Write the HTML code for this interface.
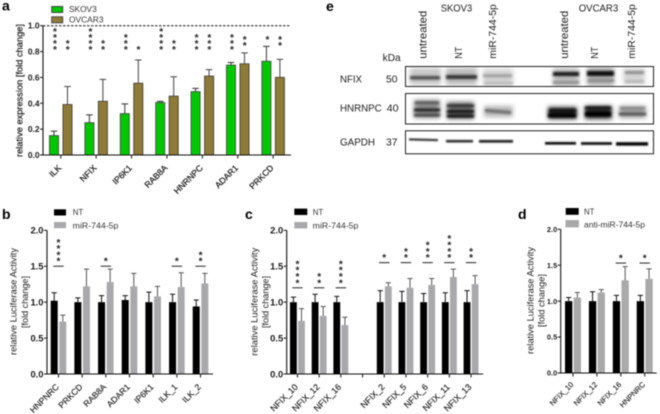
<!DOCTYPE html>
<html lang="en">
<head>
<meta charset="utf-8">
<title>miR-744-5p figure</title>
<style>
html,body{margin:0;padding:0;background:#fff;width:660px;height:414px;overflow:hidden}
svg{display:block;filter:blur(.4px)}
text{font-family:"Liberation Sans",sans-serif;fill:#1c1c1c}
</style>
</head>
<body>
<svg id="fig" xmlns="http://www.w3.org/2000/svg" width="660" height="414" viewBox="0 0 660 414">
<defs>
<filter id="b1" x="-20%" y="-150%" width="140%" height="400%"><feGaussianBlur stdDeviation="1.1"/></filter>
<filter id="b0" x="-20%" y="-200%" width="140%" height="500%"><feGaussianBlur stdDeviation="0.7"/></filter>
<filter id="b2" x="-20%" y="-100%" width="140%" height="300%"><feGaussianBlur stdDeviation="2.4"/></filter>
<pattern id="hatch" width="2" height="2" patternUnits="userSpaceOnUse"><rect width="2" height="2" fill="#c8c8c8"/><rect width="1" height="1" fill="#8a8a8a"/><rect x="1" y="1" width="1" height="1" fill="#8a8a8a"/></pattern>
<clipPath id="clipNfix"><rect x="405" y="66" width="249" height="21"/></clipPath>
<clipPath id="clipHnr"><rect x="405" y="93" width="249" height="31"/></clipPath>
<clipPath id="clipGap"><rect x="405" y="131" width="249" height="23"/></clipPath>
</defs>

<text x="2" y="10.5" font-size="14" font-weight="bold" style="fill:#000">a</text>
<text x="2" y="219" font-size="14" font-weight="bold" style="fill:#000">b</text>
<text x="245" y="219" font-size="14" font-weight="bold" style="fill:#000">c</text>
<text x="518" y="219" font-size="14" font-weight="bold" style="fill:#000">d</text>
<text x="326" y="11" font-size="14" font-weight="bold" style="fill:#000">e</text>

<g id="panel-a"></g>
<g id="panel-b"></g>
<g id="panel-c"></g>
<g id="panel-d"></g>

<g>
  <text x="440.7" y="11.7" font-size="10" textLength="31.5" lengthAdjust="spacingAndGlyphs">SKOV3</text>
  <text x="578.7" y="11.7" font-size="10" textLength="39.5" lengthAdjust="spacingAndGlyphs">OVCAR3</text>
  <text transform="translate(426.7,58.7) rotate(-90)" font-size="11" textLength="48" lengthAdjust="spacingAndGlyphs">untreated</text>
  <text transform="translate(462,58.7) rotate(-90)" font-size="10.5" textLength="12" lengthAdjust="spacingAndGlyphs">NT</text>
  <text transform="translate(496,58.7) rotate(-90)" font-size="10.5" textLength="54.5" lengthAdjust="spacingAndGlyphs">miR-744-5p</text>
  <text transform="translate(568,58.7) rotate(-90)" font-size="11" textLength="48" lengthAdjust="spacingAndGlyphs">untreated</text>
  <text transform="translate(598,58.7) rotate(-90)" font-size="10.5" textLength="12" lengthAdjust="spacingAndGlyphs">NT</text>
  <text transform="translate(635,58.7) rotate(-90)" font-size="10.5" textLength="54.5" lengthAdjust="spacingAndGlyphs">miR-744-5p</text>
  <text x="382.7" y="61" font-size="10" textLength="18" lengthAdjust="spacingAndGlyphs">kDa</text>
  <text x="340" y="82.7" font-size="10" textLength="22" lengthAdjust="spacingAndGlyphs">NFIX</text>
  <text x="386" y="82.7" font-size="10" textLength="11.5" lengthAdjust="spacingAndGlyphs">50</text>
  <text x="340" y="111.3" font-size="10" textLength="41.7" lengthAdjust="spacingAndGlyphs">HNRNPC</text>
  <text x="386.7" y="111.3" font-size="10" textLength="12" lengthAdjust="spacingAndGlyphs">40</text>
  <text x="340" y="145.3" font-size="10" textLength="35" lengthAdjust="spacingAndGlyphs">GAPDH</text>
  <text x="386" y="145.3" font-size="10" textLength="11.5" lengthAdjust="spacingAndGlyphs">37</text>

  <g clip-path="url(#clipNfix)">
    <g filter="url(#b2)">
      <rect x="410" y="68" width="31" height="17" fill="#c6c6c6"/>
      <rect x="446" y="68" width="31" height="17" fill="#bababa"/>
      <rect x="483" y="69" width="30" height="16" fill="#d2d2d2"/>
      <rect x="553" y="68" width="26" height="18" fill="#bcbcbc"/>
      <rect x="587" y="67" width="27" height="19" fill="#b0b0b0"/>
      <rect x="623" y="68" width="22" height="16" fill="#d6d6d6"/>
    </g>
    <g filter="url(#b1)">
      <rect x="410" y="76" width="30" height="3.5" fill="#4a4a4a"/>
      <rect x="446" y="75" width="31" height="4" fill="#333"/>
      <rect x="483" y="74.5" width="29" height="2.6" fill="#9a9a9a"/>
      <rect x="484" y="82" width="29" height="2.6" fill="#b5b5b5"/>
      <rect x="553" y="72" width="26" height="4" fill="#161616"/>
      <rect x="553" y="81" width="26" height="3" fill="#8f8f8f"/>
      <rect x="587" y="71" width="27" height="5" fill="#0a0a0a"/>
      <rect x="588" y="79" width="26" height="3" fill="#8a8a8a"/>
      <rect x="625" y="71" width="19" height="3" fill="#8a8a8a"/>
      <rect x="625" y="80" width="19" height="3" fill="#b5b5b5"/>
    </g>
  </g>
  <g clip-path="url(#clipHnr)">
    <g filter="url(#b2)">
      <rect x="414" y="100" width="26" height="18" fill="#8c8c8c"/>
      <rect x="447" y="102" width="27" height="17" fill="#6e6e6e"/>
      <rect x="484" y="106" width="29" height="11" fill="#b5b5b5"/>
      <rect x="548" y="107" width="29" height="12" fill="#333"/>
      <rect x="585" y="106" width="27" height="13" fill="#333"/>
      <rect x="619" y="106" width="27" height="12" fill="#a0a0a0"/>
    </g>
    <g filter="url(#b1)">
      <rect x="415" y="101.5" width="24" height="2.6" fill="#555"/>
      <rect x="414" y="108.5" width="26" height="3" fill="#222"/>
      <rect x="414" y="113.8" width="26" height="2.6" fill="#3c3c3c"/>
      <rect x="447" y="104.5" width="27" height="2.6" fill="#2a2a2a"/>
      <rect x="447" y="110" width="27" height="3" fill="#111"/>
      <rect x="447" y="114.5" width="27" height="3" fill="#111"/>
      <rect x="485" y="110" width="26" height="3" fill="#6a6a6a" transform="rotate(5 498 111)"/>
      <rect x="549" y="109" width="27" height="3.5" fill="#0a0a0a"/>
      <rect x="548" y="113.5" width="28" height="4" fill="#000"/>
      <rect x="585" y="106.5" width="26" height="3" fill="#111"/>
      <rect x="585" y="111.5" width="26" height="5" fill="#000"/>
      <rect x="620" y="107" width="25" height="2.4" fill="#7f7f7f"/>
      <rect x="619" y="112.5" width="27" height="3" fill="#555"/>
    </g>
  </g>
  <g clip-path="url(#clipGap)" filter="url(#b0)">
    <rect x="409" y="138.8" width="29" height="2" fill="#222" transform="rotate(1.5 424 140)"/>
    <rect x="446" y="140" width="27" height="2.4" fill="#1a1a1a"/>
    <rect x="479" y="140" width="34" height="2.6" fill="#161616"/>
    <rect x="545" y="142" width="31" height="2.6" fill="#050505"/>
    <rect x="581" y="142.2" width="31" height="2.6" fill="#050505"/>
    <rect x="616" y="142.2" width="32" height="3.4" fill="#000"/>
  </g>
  <rect x="405.5" y="66.5" width="248" height="20" fill="none" stroke="#222" stroke-width="1"/>
  <rect x="405.5" y="93.5" width="248" height="30.5" fill="none" stroke="#222" stroke-width="1"/>
  <rect x="405.5" y="130.8" width="248" height="23" fill="none" stroke="#222" stroke-width="1"/>
</g>
</svg>
<script>
/* Panel a */
const aCategories = ['ILK','NFIX','IP6K1','RAB8A','HNRNPC','ADAR1','PRKCD'];
const aSkov = [0.15,0.25,0.32,0.405,0.49,0.695,0.725];
const aSkovTop = [0.185,0.31,0.395,0.415,0.515,0.715,0.84];
const aOvcar = [0.39,0.415,0.555,0.455,0.61,0.705,0.60];
const aOvcarTop = [0.53,0.585,0.735,0.605,0.66,0.79,0.74];
const aSkovStars = [4,4,3,4,3,3,1];
const aOvcarStars = [2,2,1,2,3,2,2];
const aSkovStarLevel = [0.833,0.833,0.833,0.833,0.833,0.833,0.91];
const aOvcarStarLevel = [0.833,0.833,0.833,0.833,0.833,0.866,0.866];
const aTicks = ['0.0','0.2','0.4','0.6','0.8','1.0'];

/* Panel b */
const bCategories = ['HNPNRC','PRKCD','RAB8A','ADAR1','IP6K1','ILK_1','ILK_2'];
const bNT = [1.02,1.0,1.0,1.03,1.0,1.0,0.94];
const bNTTop = [1.13,1.06,1.09,1.09,1.14,1.11,1.03];
const bMir = [0.73,1.22,1.28,1.22,1.08,1.21,1.26];
const bMirTop = [0.82,1.46,1.46,1.40,1.22,1.41,1.40];
const bStars = [4,0,1,0,0,1,2];
const bSigLevel = [1.5,0,1.5,0,0,1.5,1.5];

/* Panel c */
const cCategories = ['NFIX_10','NFIX_12','NFIX_16','','NFIX_2','NFIX_5','NFIX_6','NFIX_11','NFIX_13'];
const cNT = [1,1,1,null,1,1,1,1,1];
const cNTTop = [1.07,1.11,1.08,null,1.16,1.15,1.12,1.13,1.16];
const cMir = [0.74,0.81,0.68,null,1.22,1.2,1.24,1.35,1.25];
const cMirTop = [0.91,0.94,0.79,null,1.27,1.33,1.33,1.46,1.37];
const cStars = [4,2,4,0,1,2,3,4,2];
const cSigLevel = [1.2,1.2,1.2,0,1.55,1.55,1.55,1.55,1.55];

/* Panel d */
const dCategories = ['NFIX_10','NFIX_12','NFIX_16','HNPNRC'];
const dNT = [1,1,1,1];
const dNTTop = [1.05,1.13,1.08,1.08];
const dAnti = [1.05,1.12,1.29,1.31];
const dAntiTop = [1.12,1.16,1.48,1.45];
const dStars = [0,0,1,1];
const dSigLevel = [0,0,1.53,1.53];

const lucTicks = ['0.0','0.5','1.0','1.5','2.0'];
const SVGNS = 'http://www.w3.org/2000/svg';
const STAR_SIZE = 10;

function make(parent, tag, attrs, txt) {
  const el = document.createElementNS(SVGNS, tag);
  for (const k in attrs) el.setAttribute(k, attrs[k]);
  if (txt !== undefined) el.textContent = txt;
  parent.appendChild(el);
  return el;
}
function star(parent, x, cy, color) {
  const el = make(parent, 'text', {x: x, y: cy + STAR_SIZE * 0.58, 'font-size': STAR_SIZE, 'font-weight': 'bold', 'text-anchor': 'middle', style: 'fill:' + color}, '*');
  
  
}
function yScale(p, v) { return p.y0 - (v / p.yMax) * (p.y0 - p.yTop); }
function xScale(p, i) { return p.first + i * p.spacing; }

function drawBar(p, g, x, val, top, style, errColor, seriesName) {
  const y = yScale(p, val);
  const bar = make(g, 'rect', {x: x, y: y, width: p.barW, height: p.y0 - y, fill: style.fill, stroke: style.stroke, 'stroke-width': style.sw});
  
  
  const cx = x + p.barW / 2, yt = yScale(p, top);
  const err = make(g, 'path', {d: 'M' + cx + ' ' + y + 'V' + yt + 'M' + (cx - p.cap) + ' ' + yt + 'H' + (cx + p.cap), fill: 'none', stroke: errColor, 'stroke-width': p.errW});
  
  
}

function drawPanel(p) {
  const g = document.getElementById(p.id);
  p.cats.forEach(function (cat, i) {
    if (p.s1[i] === null) return;
    const x1 = xScale(p, i), x2 = x1 + p.barW + p.gap;
    drawBar(p, g, x1, p.s1[i], p.t1[i], p.style1, p.err1, p.name1);
    drawBar(p, g, x2, p.s2[i], p.t2[i], p.style2, p.err2, p.name2);
  });

  const yAxis = make(g, 'line', {x1: p.x0, x2: p.x0, y1: p.yTop, y2: p.y0 + .5, stroke: '#111', 'stroke-width': 1.1});
  
  
  const xAxis = make(g, 'line', {x1: p.x0, x2: p.xEnd, y1: p.y0, y2: p.y0, stroke: '#111', 'stroke-width': 1.1});
  
  

  p.ticks.forEach(function (t) {
    const y = yScale(p, parseFloat(t));
    const tk = make(g, 'line', {x1: p.x0 - 3, x2: p.x0, y1: y, y2: y, stroke: '#111', 'stroke-width': 1});
    
    
    const lb = make(g, 'text', {x: p.x0 - 3.5, y: y + p.tickFont * .36, 'font-size': p.tickFont, 'font-weight': 'bold', 'text-anchor': 'end'}, t);
    
    
  });

  p.cats.forEach(function (cat, i) {
    const tx = xScale(p, i) + p.barW + p.gap / 2;
    const tk = make(g, 'line', {x1: tx, x2: tx, y1: p.y0, y2: p.y0 + 3.5, stroke: '#111', 'stroke-width': 1});
    
    
    if (cat) {
      const ax = tx + 1, ay = p.y0 + p.labelDrop;
      const lb = make(g, 'text', {transform: 'translate(' + ax + ',' + ay + ') rotate(-45)', 'font-size': p.xFont, 'text-anchor': 'end', style: 'stroke:#1c1c1c;stroke-width:' + p.xStroke}, cat);
      
      
    }
  });

  p.titles.forEach(function (tt) {
    const t = make(g, 'text', {transform: 'translate(' + tt.x + ',' + tt.y + ') rotate(-90)', 'font-size': tt.size, textLength: tt.len, lengthAdjust: 'spacingAndGlyphs', style: 'stroke:#1c1c1c;stroke-width:' + (tt.stroke || 0)}, tt.text);
    
    
  });

  p.legend.forEach(function (l) {
    const sw = make(g, 'rect', {x: l.x, y: l.y, width: l.w, height: l.h, fill: l.fill, stroke: l.stroke, 'stroke-width': l.sw});
    
    
    const lt = make(g, 'text', {x: l.tx, y: l.ty, 'font-size': l.size, textLength: l.len, lengthAdjust: 'spacingAndGlyphs', style: 'fill:#333'}, l.text);
    
    
  });
}

function drawSig(p, stars, levels) {
  const g = document.getElementById(p.id);
  stars.forEach(function (n, i) {
    if (!n) return;
    const cx = xScale(p, i) + p.barW + p.gap / 2;
    const y = yScale(p, levels[i]);
    const ln = make(g, 'line', {x1: cx - 5.2, x2: cx + 5.2, y1: y, y2: y, stroke: '#222', 'stroke-width': 1});
    
    
    for (let k = 0; k < n; k++) star(g, cx, y - 7.3 - k * 6.3, '#222');
  });
}

const panelA = {
  id: 'panel-a', x0: 43, y0: 155, yTop: 25.7, yMax: 1, xEnd: 291, first: 49.5, spacing: 35.4, barW: 9, gap: 4.5, cap: 3.3, errW: 1,
  cats: aCategories, s1: aSkov, t1: aSkovTop, s2: aOvcar, t2: aOvcarTop, name1: 'skov3', name2: 'ovcar3',
  style1: {fill: '#00c800', stroke: '#4a5a4a', sw: 1}, style2: {fill: '#8f7b38', stroke: '#4f4a38', sw: 1}, err1: '#333', err2: '#444',
  ticks: aTicks, tickFont: 8.4, xFont: 8.6, xStroke: 0.25, labelDrop: 13.5,
  titles: [{x: 22.5, y: 157, size: 9.2, stroke: 0.2, len: 133, text: 'relative expression [fold change]'}],
  legend: [
    {x: 51.7, y: 6.5, w: 11, h: 6, fill: '#00c800', stroke: '#444', sw: 1, tx: 69, ty: 12.2, size: 8.4, len: 27.7, text: 'SKOV3'},
    {x: 51.7, y: 16.8, w: 11, h: 6, fill: '#8f7b38', stroke: '#444', sw: 1, tx: 69, ty: 22.7, size: 8.4, len: 34.5, text: 'OVCAR3'}
  ]
};
const lucBase = {yMax: 2, cap: 2.6, errW: 1, ticks: lucTicks, xStroke: 0.15};
const blackStyle = {fill: '#000', stroke: 'none', sw: 0};
const grayStyle = {fill: '#a9a9ad', stroke: 'none', sw: 0};

const panelB = Object.assign({}, lucBase, {
  id: 'panel-b', x0: 47, y0: 374, yTop: 230.3, xEnd: 213, first: 50.7, spacing: 23.67, barW: 7, gap: 1.6,
  cats: bCategories, s1: bNT, t1: bNTTop, s2: bMir, t2: bMirTop, name1: 'nt', name2: 'mir-744-5p',
  style1: blackStyle, style2: grayStyle, err1: '#111', err2: '#555',
  tickFont: 9.4, xFont: 8.6, labelDrop: 13.5,
  titles: [
    {x: 16.7, y: 355, size: 9.2, len: 107, text: 'relative Luciferase Activity'},
    {x: 28, y: 328, size: 9.2, len: 52, text: '[fold change]'}
  ],
  legend: [
    {x: 54, y: 209.3, w: 12, h: 6.2, fill: '#000', stroke: 'none', sw: 0, tx: 72.7, ty: 215, size: 8.7, len: 10.5, text: 'NT'},
    {x: 54, y: 222, w: 12, h: 6.2, fill: '#a9a9ad', stroke: 'none', sw: 0, tx: 72.7, ty: 228.3, size: 8.7, len: 45.7, text: 'miR-744-5p'}
  ]
});
const panelC = Object.assign({}, lucBase, {
  id: 'panel-c', x0: 286.7, y0: 374, yTop: 230.3, xEnd: 483, first: 290, spacing: 21.7, barW: 6.8, gap: 1.3,
  cats: cCategories, s1: cNT, t1: cNTTop, s2: cMir, t2: cMirTop, name1: 'nt', name2: 'mir-744-5p',
  style1: blackStyle, style2: grayStyle, err1: '#111', err2: '#555',
  tickFont: 9.4, xFont: 8.8, labelDrop: 13.5,
  titles: [
    {x: 257.7, y: 355.7, size: 9.2, len: 108, text: 'relative Luciferase Activity'},
    {x: 268.3, y: 328, size: 9.2, len: 52, text: '[fold change]'}
  ],
  legend: [
    {x: 294.3, y: 208.6, w: 13, h: 6.4, fill: '#000', stroke: 'none', sw: 0, tx: 312.7, ty: 215, size: 8.7, len: 10.5, text: 'NT'},
    {x: 294.3, y: 222, w: 13, h: 6.4, fill: '#a9a9ad', stroke: 'none', sw: 0, tx: 312.7, ty: 228.3, size: 8.7, len: 45.7, text: 'miR-744-5p'}
  ]
});
const panelD = Object.assign({}, lucBase, {
  id: 'panel-d', x0: 560.7, y0: 373, yTop: 229.3, xEnd: 656.7, first: 565, spacing: 23.9, barW: 7.3, gap: 1.4,
  cats: dCategories, s1: dNT, t1: dNTTop, s2: dAnti, t2: dAntiTop, name1: 'nt', name2: 'anti-mir-744-5p',
  style1: blackStyle, style2: {fill: 'url(#hatch)', stroke: 'none', sw: 0}, err1: '#111', err2: '#555',
  tickFont: 7.4, xFont: 7.6, labelDrop: 12,
  titles: [
    {x: 533.3, y: 354, size: 9.2, len: 107, text: 'relative Luciferase Activity'},
    {x: 544.7, y: 327, size: 9.2, len: 53, text: '[fold change]'}
  ],
  legend: [
    {x: 565.7, y: 208, w: 13, h: 6.8, fill: '#000', stroke: 'none', sw: 0, tx: 584, ty: 214.3, size: 8.7, len: 10.5, text: 'NT'},
    {x: 565.7, y: 220.3, w: 13, h: 6.8, fill: 'url(#hatch)', stroke: '#aaa', sw: .5, tx: 584, ty: 227.3, size: 8.7, len: 61, text: 'anti-miR-744-5p'}
  ]
});

drawPanel(panelA);
drawPanel(panelB);
drawPanel(panelC);
drawPanel(panelD);
drawSig(panelB, bStars, bSigLevel);
drawSig(panelC, cStars, cSigLevel);
drawSig(panelD, dStars, dSigLevel);

/* panel a reference line and star columns */
(function () {
  const g = document.getElementById('panel-a');
  const ref = make(g, 'line', {x1: panelA.x0, x2: panelA.xEnd, y1: yScale(panelA, 1), y2: yScale(panelA, 1), stroke: '#111', 'stroke-width': 1, 'stroke-dasharray': '2.4 1.6'});
  
  
  aCategories.forEach(function (cat, i) {
    const x1 = xScale(panelA, i) + panelA.barW / 2 + 1;
    const x2 = x1 + panelA.barW + panelA.gap - 0.8;
    for (let k = 0; k < aSkovStars[i]; k++) star(g, x1, yScale(panelA, aSkovStarLevel[i]) - k * 6, '#222');
    for (let k = 0; k < aOvcarStars[i]; k++) star(g, x2, yScale(panelA, aOvcarStarLevel[i]) - k * 6, '#222');
  });
})();
</script>
</body>
</html>
